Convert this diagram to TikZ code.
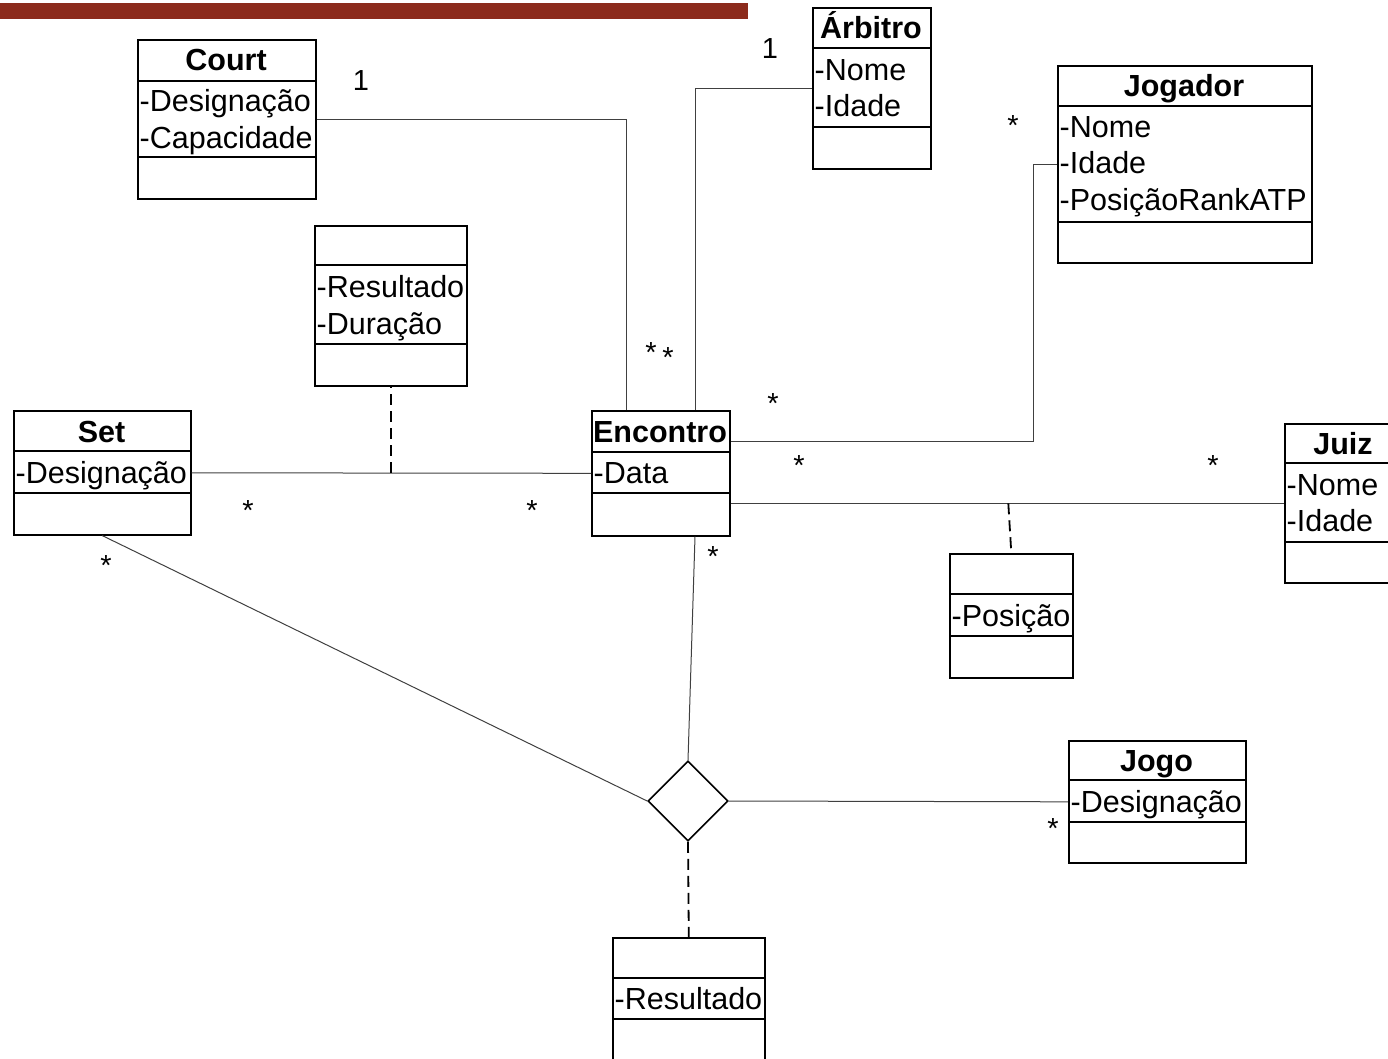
\documentclass[tikz,border=0pt]{standalone}
\usepackage{fontspec}
\setmainfont{Liberation Sans}
\usetikzlibrary{shapes.geometric,calc}
\definecolor{barred}{RGB}{140,43,28}
\begin{document}
\begin{tikzpicture}[x=1pt,y=-1pt,
  classbox/.style={draw=black,line width=1.6pt,anchor=north west,inner sep=0pt},
  divider/.style={draw=black,line width=1.6pt},
  ctitle/.style={font=\bfseries\fontsize{30.5}{36.5}\selectfont,inner sep=0pt,anchor=base},
  cattr/.style={font=\fontsize{30.5}{36.5}\selectfont,inner sep=0pt,anchor=base west},
  conn/.style={draw=black!75,line width=1pt},
  assocdash/.style={draw=black,line width=1.8pt,dash pattern=on 11pt off 6pt},
  lbl/.style={font=\fontsize{29}{32}\selectfont,inner sep=0pt,anchor=base},
  dia/.style={draw=black,line width=1.6pt,shape=diamond,minimum width=80pt,minimum height=80pt,inner sep=0pt}
]
\useasboundingbox (0,0) rectangle (1388,1058);
\clip (0,0) rectangle (1388,1058);
\fill[barred] (0,3) rectangle (748,19);

% ---------- Court
\node[classbox,minimum width=178pt,minimum height=159pt] (court) at (137,39) {};
\draw[divider] (137,81) -- (315,81) (137,157) -- (315,157);
\node[ctitle] (courtT) at (226,70) {Court};
\node[cattr] (courtA1) at (139.5,111) {-Designação};
\node[cattr] (courtA2) at (139.5,148) {-Capacidade};

% ---------- Arbitro
\node[classbox,minimum width=118pt,minimum height=161pt] (arbitro) at (812,7) {};
\draw[divider] (812,48) -- (930,48) (812,127) -- (930,127);
\node[ctitle] (arbT) at (871,38) {Árbitro};
\node[cattr] (arbA1) at (814.5,80) {-Nome};
\node[cattr] (arbA2) at (814.5,116) {-Idade};

% ---------- Jogador
\node[classbox,minimum width=254pt,minimum height=197pt] (jogador) at (1057,65) {};
\draw[divider] (1057,106) -- (1311,106) (1057,222) -- (1311,222);
\node[ctitle] (jogT) at (1184,96) {Jogador};
\node[cattr] (jogA1) at (1059.5,137) {-Nome};
\node[cattr] (jogA2) at (1059.5,173) {-Idade};
\node[cattr] (jogA3) at (1059.5,210) {-PosiçãoRankATP};

% ---------- Association class (Resultado, Duracao)
\node[classbox,minimum width=152pt,minimum height=160pt] (assoc1) at (314,225) {};
\draw[divider] (314,265) -- (466,265) (314,344) -- (466,344);
\node[cattr] (as1A1) at (316.5,297) {-Resultado};
\node[cattr] (as1A2) at (316.5,334) {-Duração};

% ---------- Set
\node[classbox,minimum width=177pt,minimum height=124pt] (set) at (13,410) {};
\draw[divider] (13,451) -- (190,451) (13,493) -- (190,493);
\node[ctitle] (setT) at (101.5,442) {Set};
\node[cattr] (setA1) at (15.5,483) {-Designação};

% ---------- Encontro
\node[classbox,minimum width=138pt,minimum height=125pt] (encontro) at (591,410) {};
\draw[divider] (591,452) -- (729,452) (591,493) -- (729,493);
\node[ctitle] (encT) at (660,442) {Encontro};
\node[cattr] (encA1) at (593.5,483) {-Data};

% ---------- Juiz
\node[classbox,minimum width=118pt,minimum height=159pt] (juiz) at (1284,423) {};
\draw[divider] (1284,463) -- (1402,463) (1284,542) -- (1402,542);
\node[ctitle] (juizT) at (1343,454) {Juiz};
\node[cattr] (juizA1) at (1286.5,495) {-Nome};
\node[cattr] (juizA2) at (1286.5,531) {-Idade};

% ---------- Posicao
\node[classbox,minimum width=123pt,minimum height=124pt] (posicao) at (949,553) {};
\draw[divider] (949,594) -- (1072,594) (949,636) -- (1072,636);
\node[cattr] (posA1) at (951.5,626) {-Posição};

% ---------- Jogo
\node[classbox,minimum width=177pt,minimum height=122pt] (jogo) at (1068,740) {};
\draw[divider] (1068,780) -- (1245,780) (1068,822) -- (1245,822);
\node[ctitle] (jogoT) at (1156.5,771) {Jogo};
\node[cattr] (jogoA1) at (1070.5,812) {-Designação};

% ---------- Resultado (bottom)
\node[classbox,minimum width=152pt,minimum height=130pt] (res2) at (612,937) {};
\draw[divider] (612,978) -- (764,978) (612,1019) -- (764,1019);
\node[cattr] (res2A1) at (614.5,1009) {-Resultado};

% ---------- Diamond
\node[dia] (dmd) at (688,801) {};

% ---------- Connectors
\draw[conn] (court.east) -| ($(encontro.north west)+(35,0)$);
\draw[conn] (arbitro.west) -| ($(encontro.north west)+(104,0)$);
\coordinate (jbend) at (1033,300);
\draw[conn] ($(encontro.east)+(0,-31.5)$) -| (jbend) |- (jogador.west);
\draw[conn] (encontro.east |- juiz.west) -- (juiz.west);
\draw[conn] (set.east) -- (encontro.west);
\draw[conn] (set.south) -- (dmd.west);
\draw[conn] ($(encontro.south west)+(104,0)$) -- (dmd.north);
\draw[conn] (dmd.east) -- (jogo.west);

% dashed association links
\draw[assocdash] (set.east -| assoc1.south) -- (assoc1.south);
\draw[assocdash] ($(juiz.west -| posicao.north)+(-3,0)$) -- (posicao.north);
\draw[assocdash] (dmd.south) -- (res2.north);

% ---------- Multiplicities
\node[lbl] (m1) at (361,90) {1};
\node[lbl] (m2) at (770,58) {1};
\node[lbl] (s1) at (651,362) {*};
\node[lbl] (s2) at (668,367) {*};
\node[lbl] (s3) at (1013,135) {*};
\node[lbl] (s4) at (773,413) {*};
\node[lbl] (s5) at (799,475) {*};
\node[lbl] (s6) at (1213,475) {*};
\node[lbl] (s7) at (248,520) {*};
\node[lbl] (s8) at (532,520) {*};
\node[lbl] (s9) at (106,575) {*};
\node[lbl] (s10) at (713,566) {*};
\node[lbl] (s11) at (1053,838) {*};
\end{tikzpicture}
\end{document}
